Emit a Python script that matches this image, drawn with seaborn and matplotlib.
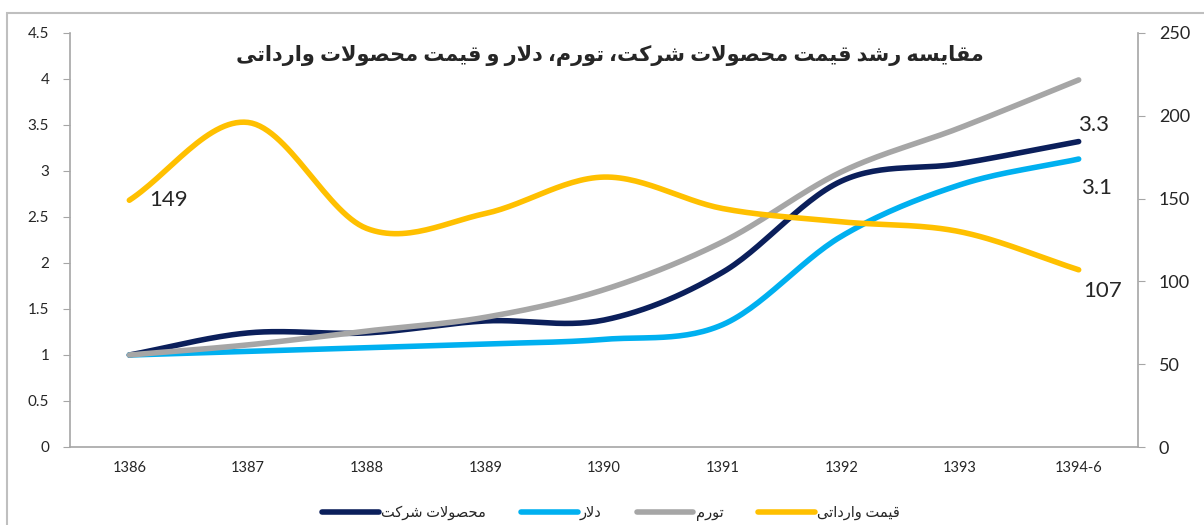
import numpy as np
import pandas as pd
import matplotlib
matplotlib.use("Agg")
import matplotlib.pyplot as plt
import seaborn as sns
from matplotlib.patches import Rectangle

# data
years = ["1386", "1387", "1388", "1389", "1390", "1391", "1392", "1393", "1394-6"]
company = [1.0, 1.24, 1.24, 1.37, 1.38, 1.90, 2.89, 3.08, 3.32]
dollar = [1.0, 1.04, 1.08, 1.12, 1.17, 1.33, 2.29, 2.85, 3.13]
inflation = [1.0, 1.11, 1.26, 1.41, 1.71, 2.23, 2.99, 3.47, 3.99]
imported = [149, 196, 132, 141, 163, 144, 136, 130, 107]

title_fa = "مقایسه رشد قیمت محصولات شرکت، تورم، دلار و قیمت محصولات وارداتی"
names_fa = ["محصولات شرکت", "دلار", "تورم", "قیمت وارداتی"]
colors = ["#0b1f5b", "#00b0f0", "#a6a6a6", "#ffc000"]

# Arabic presentation forms: isolated, final, initial, medial
FORMS = {
    "ا": ("\uFE8D", "\uFE8E", None, None),
    "د": ("\uFEA9", "\uFEAA", None, None),
    "ر": ("\uFEAD", "\uFEAE", None, None),
    "و": ("\uFEED", "\uFEEE", None, None),
    "ت": ("\uFE95", "\uFE96", "\uFE97", "\uFE98"),
    "ح": ("\uFEA1", "\uFEA2", "\uFEA3", "\uFEA4"),
    "س": ("\uFEB1", "\uFEB2", "\uFEB3", "\uFEB4"),
    "ش": ("\uFEB5", "\uFEB6", "\uFEB7", "\uFEB8"),
    "ص": ("\uFEB9", "\uFEBA", "\uFEBB", "\uFEBC"),
    "ق": ("\uFED5", "\uFED6", "\uFED7", "\uFED8"),
    "ل": ("\uFEDD", "\uFEDE", "\uFEDF", "\uFEE0"),
    "م": ("\uFEE1", "\uFEE2", "\uFEE3", "\uFEE4"),
    "ه": ("\uFEE9", "\uFEEA", "\uFEEB", "\uFEEC"),
    "ک": ("\uFB8E", "\uFB8F", "\uFB90", "\uFB91"),
    "ی": ("\uFBFC", "\uFBFD", "\uFBFE", "\uFBFF"),
    "\uFEFB": ("\uFEFB", "\uFEFC", None, None),  # lam-alef
}


def fa(text):
    """shape persian text and put it in visual order for matplotlib"""
    text = text.replace("لا", "\uFEFB")
    out = []
    for i, ch in enumerate(text):
        if ch not in FORMS:
            out.append(ch)
            continue
        prev = text[i - 1] if i > 0 else ""
        nxt = text[i + 1] if i + 1 < len(text) else ""
        iso, fin, ini, med = FORMS[ch]
        join_prev = prev in FORMS and FORMS[prev][2] is not None
        join_next = ini is not None and nxt in FORMS
        if join_prev and join_next:
            out.append(med)
        elif join_prev:
            out.append(fin)
        elif join_next:
            out.append(ini)
        else:
            out.append(iso)
    return "".join(out)[::-1]


def smooth(y, n=30):
    """catmull-rom curve through the points, like excel's smoothed line"""
    y = np.asarray(y, dtype=float)
    x = np.arange(len(y), dtype=float)
    px = np.concatenate([[2 * x[0] - x[1]], x, [2 * x[-1] - x[-2]]])
    py = np.concatenate([[2 * y[0] - y[1]], y, [2 * y[-1] - y[-2]]])
    xs, ys = [], []
    t = np.linspace(0, 1, n, endpoint=False)
    for i in range(1, len(px) - 2):
        for p, acc in ((px, xs), (py, ys)):
            p0, p1, p2, p3 = p[i - 1], p[i], p[i + 1], p[i + 2]
            acc.extend(0.5 * (2 * p1 + (-p0 + p2) * t
                              + (2 * p0 - 5 * p1 + 4 * p2 - p3) * t ** 2
                              + (-p0 + 3 * p1 - 3 * p2 + p3) * t ** 3))
    xs.append(x[-1])
    ys.append(y[-1])
    return np.array(xs), np.array(ys)


sns.set_style("white")
plt.rcParams["font.family"] = ["Lato", "DejaVu Sans"]

fig = plt.figure(figsize=(12.04, 5.25), dpi=100)
ax = fig.add_axes([70 / 1204, 1 - 447 / 525, (1138 - 70) / 1204, (447 - 33) / 525])
ax2 = ax.twinx()

handles = []
for vals, name, col in zip([company, dollar, inflation], names_fa[:3], colors[:3]):
    sx, sy = smooth(vals)
    sns.lineplot(x=sx, y=sy, ax=ax, color=col, lw=4, sort=False,
                 solid_capstyle="round")
    handles.append(plt.Line2D([], [], color=col, lw=4, solid_capstyle="round",
                              label=fa(name)))
sx, sy = smooth(imported)
sns.lineplot(x=sx, y=sy, ax=ax2, color=colors[3], lw=4, sort=False,
             solid_capstyle="round")
handles.append(plt.Line2D([], [], color=colors[3], lw=4, solid_capstyle="round",
                          label=fa(names_fa[3])))

spine_col = "#a6a6a6"
ax.set_xlim(-0.5, len(years) - 0.5)
ax.set_ylim(0, 4.5)
ax2.set_ylim(0, 250)
ax.set_yticks(np.arange(0, 4.51, 0.5))
ax.set_yticklabels([f"{v:g}" for v in np.arange(0, 4.51, 0.5)], fontsize=11)
ax2.set_yticks(np.arange(0, 251, 50))
ax2.set_yticklabels([str(v) for v in range(0, 251, 50)], fontsize=13)
ax.set_xticks(range(len(years)))
ax.set_xticklabels(years, fontsize=10.5)
ax.tick_params(axis="x", length=0, pad=10)
ax.set_xticks(np.arange(-0.5, len(years), 1), minor=True)
ax.tick_params(axis="x", which="minor", length=5, color=spine_col, direction="out")
ax.tick_params(axis="y", length=5, color=spine_col, direction="out", pad=10)
ax2.tick_params(axis="y", length=5, color=spine_col, direction="out", pad=10)
for a in (ax, ax2):
    for s in a.spines.values():
        s.set_visible(False)
ax.spines["left"].set_visible(True)
ax.spines["bottom"].set_visible(True)
ax2.spines["right"].set_visible(True)
for s in (ax.spines["left"], ax.spines["bottom"], ax2.spines["right"]):
    s.set_color(spine_col)
    s.set_linewidth(1.2)
ax.grid(False)
ax2.grid(False)

last = len(years) - 1
lab = dict(fontsize=16, textcoords="offset points", ha="center", va="center")
ax2.annotate(f"{imported[0]}", (0, imported[0]), xytext=(28, 0), **lab)
ax2.annotate(f"{imported[-1]}", (last, imported[-1]), xytext=(17, -15), **lab)
ax.annotate(f"{company[-1]:.1f}", (last, company[-1]), xytext=(11, 12), **lab)
ax.annotate(f"{dollar[-1]:.1f}", (last, dollar[-1]), xytext=(13, -21), **lab)

fig.text(610 / 1204, 1 - 55 / 525, fa(title_fa), ha="center", va="center",
         fontsize=15, fontweight="bold")

fig.legend(handles=handles, loc="center", bbox_to_anchor=(611 / 1204, 12 / 525),
           ncol=4, frameon=False, fontsize=10.5, handlelength=3.9,
           handletextpad=0.15, columnspacing=2.4)

fig.add_artist(Rectangle((7 / 1204, -0.05), 1.0, 1 - 13 / 525 + 0.05,
                         transform=fig.transFigure, fill=False,
                         edgecolor="#bfbfbf", lw=1.5))

fig.savefig("out.png", dpi=100)
